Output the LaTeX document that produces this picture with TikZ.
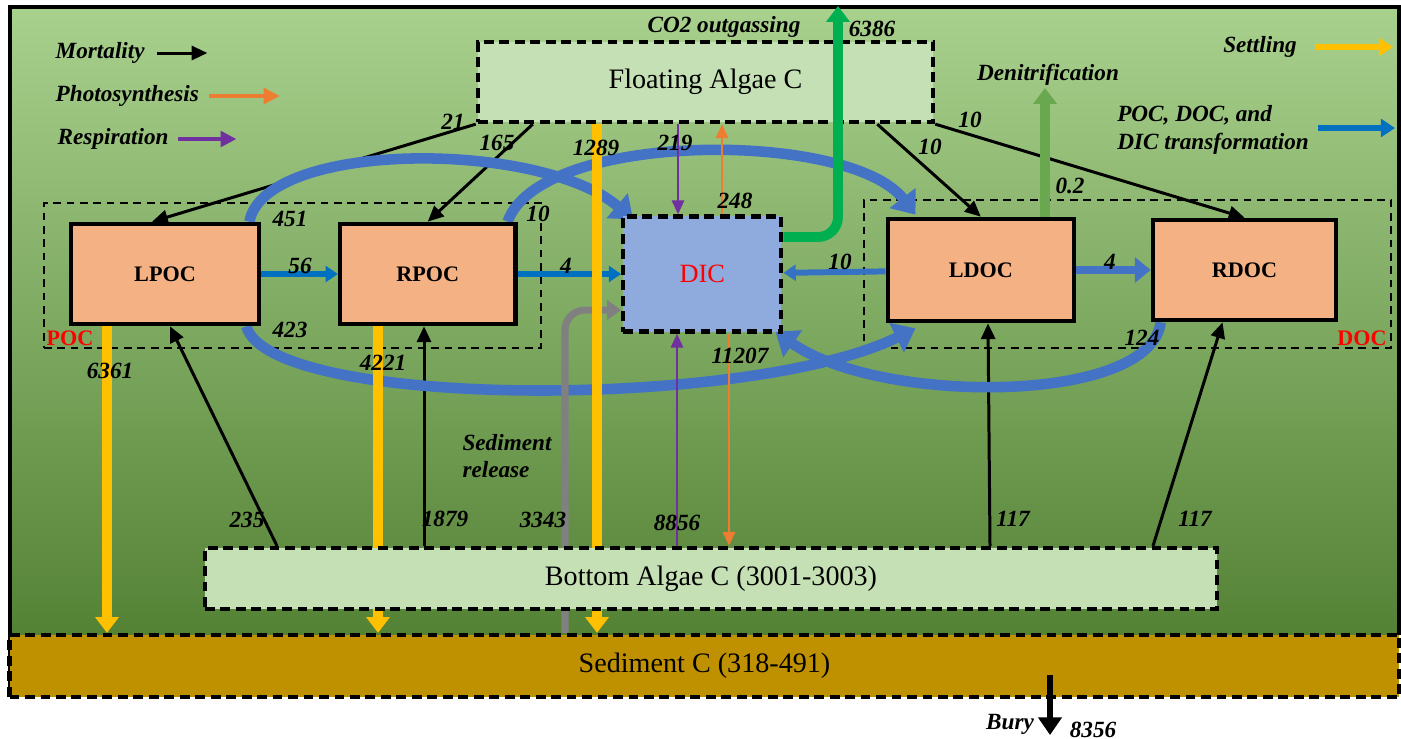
\documentclass[tikz,border=0pt]{standalone}
\usepackage{fontspec}
\setmainfont{Liberation Serif}
\usetikzlibrary{arrows.meta,positioning,calc}

\definecolor{bgtop}{HTML}{A9D18E}
\definecolor{bgmid}{HTML}{7DB553}
\definecolor{bgbot}{HTML}{548235}
\definecolor{algaefill}{HTML}{C5E0B4}
\definecolor{poolfill}{HTML}{F4B183}
\definecolor{dicfill}{HTML}{8FAADC}
\definecolor{sedfill}{HTML}{BF9000}
\definecolor{settlecol}{HTML}{FFC000}
\definecolor{photocol}{HTML}{ED7D31}
\definecolor{respcol}{HTML}{7030A0}
\definecolor{transblue}{HTML}{0070C0}
\definecolor{curveblue}{HTML}{4472C4}
\definecolor{co2col}{HTML}{00B050}
\definecolor{denitcol}{HTML}{6AA84F}
\definecolor{releasecol}{HTML}{808080}

\pgfdeclarelayer{bg}
\pgfdeclarelayer{flows}
\pgfsetlayers{bg,flows,main}

\begin{document}
\begin{tikzpicture}[
    x=0.01cm, y=-0.01cm,
    every node/.style={inner sep=0pt, align=center},
    pool/.style={draw, line width=1.3pt, fill=poolfill, font=\fontsize{6.3}{7}\selectfont\bfseries},
    algae/.style={draw, line width=1.2pt, dash pattern=on 2.8pt off 1.6pt, fill=algaefill, font=\fontsize{8}{9.6}\selectfont},
    groupbox/.style={draw, line width=0.5pt, dash pattern=on 2.2pt off 1.6pt},
    lab/.style={font=\fontsize{6.6}{7.8}\selectfont\bfseries\itshape},
    mort/.style={line width=0.85pt, -{Triangle[width=4pt,length=4.5pt]}},
    settle/.style={draw=settlecol, line width=2.8pt, -{Triangle[width=6.5pt,length=4.5pt]}},
    photo/.style={draw=photocol, line width=0.6pt, -{Triangle[width=3.5pt,length=4pt]}},
    resp/.style={draw=respcol, line width=0.6pt, -{Triangle[width=3.5pt,length=4pt]}},
    trans/.style={draw=transblue, line width=1.7pt, -{Triangle[width=4.5pt,length=3.5pt]}},
    flow/.style={draw=curveblue, line width=3pt, -{Triangle[width=9pt,length=6pt]}},
    co2/.style={draw=co2col, line width=2.8pt, rounded corners=0.2cm, -{Triangle[width=6.5pt,length=4.5pt]}}
  ]
    \useasboundingbox (0,0) rectangle (1401,738);

    % Pools in a row
    \node[pool, minimum width=1.88cm, minimum height=1.0cm] (lpoc) at (165,274) {LPOC};
    \node[pool, minimum width=1.75cm, minimum height=1.0cm, right=0.765cm of lpoc] (rpoc) {RPOC};
    \node[algae, fill=dicfill, minimum width=1.58cm, minimum height=1.15cm, right=1.035cm of rpoc,
      font=\fontsize{7.5}{9}\selectfont, text=red] (dic) {DIC};
    \node[pool, minimum width=1.86cm, minimum height=1.02cm, right=1.02cm of dic, yshift=0.04cm] (ldoc) {LDOC};
    \node[pool, minimum width=1.83cm, minimum height=1.0cm, right=0.745cm of ldoc] (rdoc) {RDOC};

    % Algae and sediment
    \node[algae, minimum width=4.55cm, minimum height=0.8cm] (floating) at (705.5,82) {Floating Algae C};
    \node[algae, minimum width=10.12cm, minimum height=0.61cm] (bottom) at (711,578.5) {Bottom Algae C (3001-3003)};
    \node[algae, fill=sedfill, minimum width=13.89cm, minimum height=0.62cm] (sediment) at (704.5,666) {Sediment C (318-491)};

    \node[font=\fontsize{6.3}{7}\selectfont\bfseries, text=red] (poclab) at (70,338) {POC};
    \node[font=\fontsize{6.3}{7}\selectfont\bfseries, text=red] (doclab) at (1362,338) {DOC};

    % Water column and groups
    \begin{pgfonlayer}{bg}
      \shade[top color=bgtop, middle color=bgmid, bottom color=bgbot] (10,7) rectangle (1399,635);
      \draw[line width=1.2pt] (10,697) -- (10,7) -- (1399,7) -- (1399,635);
      \node[groupbox, minimum width=4.97cm, minimum height=1.45cm] (pocgroup) at (292.5,275.5) {};
      \node[groupbox, minimum width=5.27cm, minimum height=1.48cm] (docgroup) at (1127.5,274) {};
    \end{pgfonlayer}

    % Legend
    \node[lab, anchor=west] (lgmort) at (55,53) {Mortality};
    \node[lab, anchor=west] (lgphoto) at (55,96) {Photosynthesis};
    \node[lab, anchor=west] (lgresp) at (57,139) {Respiration};
    \node[lab] (lgsettle) at (1260,47) {Settling};
    \node[lab, align=left] (lgtrans) at (1213,130) {POC, DOC, and\\DIC transformation};
    \draw[mort] ($(lgmort.east)+(12,0)$) -- ++(50,0);
    \draw[photo, line width=0.9pt, -{Triangle[width=4.5pt,length=4.5pt]}] ($(lgphoto.east)+(9,0)$) -- ++(71,0);
    \draw[resp, line width=0.9pt, -{Triangle[width=4.5pt,length=4.5pt]}] ($(lgresp.east)+(9,0)$) -- ++(58,0);
    \draw[settle, line width=1.5pt, -{Triangle[width=5pt,length=4pt]}] (1315,47) -- (1393,47);
    \draw[trans, line width=1.5pt, -{Triangle[width=5pt,length=4pt]}] (1318,128) -- (1395,128);

    \begin{pgfonlayer}{flows}
      % Mortality
      \draw[mort] (floating.south west) -- ($(lpoc.north)+(-13,0)$);
      \draw[mort] ($(floating.south west)+(57,0)$) -- (rpoc.north);
      \draw[mort] ($(floating.south east)+(-58,0)$) -- (ldoc.north);
      \draw[mort] (floating.south east) -- (rdoc.north);
      \draw[mort] (277,0 |- bottom.north) -- ($(lpoc.south)+(5,0)$);
      \draw[mort] (424,0 |- bottom.north) -- (424,0 |- rpoc.south);
      \draw[mort] (990,0 |- bottom.north) -- (988,0 |- ldoc.south);
      \draw[mort] (1153,0 |- bottom.north) -- ($(rdoc.south)+(-22,0)$);

      % Transformations (curved)
      \draw[flow] ($(lpoc.north east)+(-12,0)$) .. controls (265,140) and (540,140) .. ($(dic.north west)+(12,5)$);
      \draw[flow] ($(rpoc.north east)+(-10,0)$) .. controls (540,130) and (850,130) .. ($(ldoc.north west)+(30,-2)$);
      \draw[flow] ($(lpoc.south east)+(-15,0)$) .. controls (270,410) and (750,410) .. ($(ldoc.south west)+(30,5)$);
      \draw[flow] ($(rdoc.south west)+(10,0)$) .. controls (1150,405) and (880,405) .. ($(dic.south east)+(-8,-2)$);

      % Transformations (straight)
      \draw[trans] (lpoc) -- (rpoc);
      \draw[trans] (rpoc) -- (dic);
      \draw[trans, draw=curveblue!80!transblue] (ldoc) -- (dic);
      \draw[trans, draw=curveblue, line width=2.5pt, -{Triangle[width=7pt,length=4.5pt]}] (ldoc) -- (rdoc);

      % Photosynthesis and respiration
      \draw[resp] (678,0 |- floating.south) -- (678,0 |- dic.north);
      \draw[photo] (722,0 |- dic.north) -- (722,0 |- floating.south);
      \draw[resp] (677,0 |- bottom.north) -- (677,0 |- dic.south);
      \draw[photo] (729,0 |- dic.south) -- (729,0 |- bottom.north);

      % Denitrification, sediment release
      \draw[draw=denitcol, line width=2.8pt, -{Triangle[width=6.5pt,length=4.5pt]}] (1045,0 |- ldoc.north) -- (1045,88);
      \draw[draw=releasecol, line width=2pt, rounded corners=0.2cm, -{Triangle[width=5.5pt,length=4pt]}]
        (565,0 |- sediment.north) |- (dic.west |- 0,310);

      % Settling
      \draw[settle] (597,0 |- floating.south) -- (597,0 |- sediment.north);
      \draw[settle] (107,0 |- lpoc.south) -- (107,0 |- sediment.north);
      \draw[settle] (378,0 |- rpoc.south) -- (378,0 |- sediment.north);
    \end{pgfonlayer}

    % Outgassing
    \coordinate (co2to) at (838,6);
    \draw[co2] (dic.east |- 0,237) -| (co2to);

    % Burial
    \coordinate (buryfrom) at (1050,675);
    \coordinate (buryto) at (1050,735);
    \draw[line width=1.7pt, -{Triangle[width=6.5pt,length=5pt]}] (buryfrom) -- (buryto);

    % Flux labels
    \node[lab] (co2lab) at (724,27) {CO2 outgassing};
    \node[lab] (n6386) at (872,29) {6386};
    \node[lab] (denitlab) at (1048,75) {Denitrification};
    \node[lab] (n02) at (1070,186) {0.2};
    \node[lab] (n21) at (453,122) {21};
    \node[lab] (n165) at (497,143) {165};
    \node[lab] (n1289) at (596,148) {1289};
    \node[lab] (n219) at (675,143) {219};
    \node[lab] (n248) at (735,201) {248};
    \node[lab] (n10a) at (970,120) {10};
    \node[lab] (n10b) at (930,147) {10};
    \node[lab] (n451) at (290,219) {451};
    \node[lab] (n10c) at (538,214) {10};
    \node[lab] (n56) at (300,266) {56};
    \node[lab] (n4a) at (566,266) {4};
    \node[lab] (n10d) at (840,262) {10};
    \node[lab] (n4b) at (1110,262) {4};
    \node[lab] (n423) at (290,330) {423};
    \node[lab] (n124) at (1142,338) {124};
    \node[lab] (n6361) at (110,371) {6361};
    \node[lab] (n4221) at (383,363) {4221};
    \node[lab] (n11207) at (740,356) {11207};
    \node[lab, align=left] (releaselab) at (507,456) {Sediment\\release};
    \node[lab] (n235) at (247,520) {235};
    \node[lab] (n1879) at (445,519) {1879};
    \node[lab] (n3343) at (543,520) {3343};
    \node[lab] (n8856) at (677,523) {8856};
    \node[lab] (n117a) at (1013,519) {117};
    \node[lab] (n117b) at (1195,519) {117};
    \node[lab] (burylab) at (1010,724) {Bury};
    \node[lab] (n8356) at (1093,730) {8356};

  \end{tikzpicture}
\end{document}
